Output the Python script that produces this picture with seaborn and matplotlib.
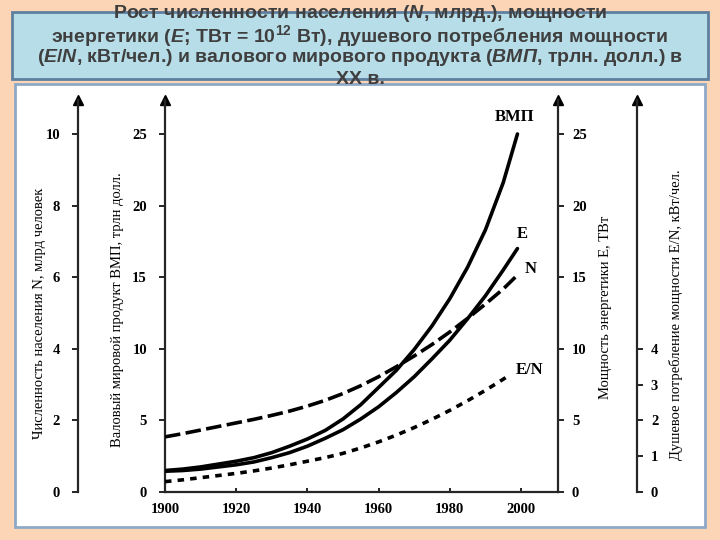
import matplotlib
matplotlib.use("Agg")
import matplotlib.pyplot as plt
from matplotlib.patches import Rectangle
import seaborn as sns
import pandas as pd

sns.set_style("ticks")
plt.rcParams['font.family'] = ['Liberation Serif', 'DejaVu Serif']
plt.rcParams['mathtext.fontset'] = 'custom'
plt.rcParams['mathtext.rm'] = 'Liberation Sans:bold'
plt.rcParams['mathtext.it'] = 'Liberation Sans:italic:bold'

## data
years = [1900, 1905, 1910, 1915, 1920, 1925, 1930, 1935, 1940, 1945, 1950,
         1955, 1960, 1965, 1970, 1975, 1980, 1985, 1990, 1995, 1999]
gwp = [1.5, 1.6, 1.75, 1.95, 2.15, 2.4, 2.75, 3.2, 3.7, 4.3, 5.1,
       6.1, 7.3, 8.5, 9.95, 11.6, 13.5, 15.7, 18.3, 21.6, 25.0]          # трлн. долл.
energy = [1.45, 1.5, 1.6, 1.75, 1.9, 2.1, 2.4, 2.75, 3.2, 3.75, 4.35,
          5.1, 5.95, 6.95, 8.05, 9.3, 10.6, 12.1, 13.7, 15.5, 17.0]      # ТВт
population = [1.54, 1.63, 1.73, 1.83, 1.93, 2.03, 2.14, 2.26, 2.4, 2.56, 2.75,
              2.97, 3.22, 3.5, 3.8, 4.12, 4.47, 4.85, 5.25, 5.67, 6.06]  # млрд
years_en = [1900, 1905, 1910, 1915, 1920, 1925, 1930, 1935, 1940, 1945, 1950,
            1955, 1960, 1965, 1970, 1975, 1980, 1985, 1990, 1995, 1997]
per_capita = [0.29, 0.34, 0.4, 0.46, 0.52, 0.59, 0.67, 0.76, 0.86, 0.96, 1.08,
              1.23, 1.4, 1.59, 1.8, 2.03, 2.28, 2.55, 2.84, 3.15, 3.28]  # кВт/чел.

x_ticks = [1900, 1920, 1940, 1960, 1980, 2000]
gwp_ticks = [0, 5, 10, 15, 20, 25]
pop_ticks = [0, 2, 4, 6, 8, 10]
en_ticks = [0, 5, 10, 15, 20, 25]
pc_ticks = [0, 1, 2, 3, 4]

title_lines = [
    r"Рост численности населения $\mathit{(N}$, млрд.), мощности",
    r"энергетики ($\mathit{E}$; ТВт = 10$^{12}$ Вт), душевого потребления мощности",
    r"$\mathit{(E/N}$, кВт/чел.) и валового мирового продукта $\mathit{(ВМП}$, трлн. долл.) в",
    "XX в.",
]

df_gwp = pd.DataFrame({"year": years, "v": gwp})
df_e = pd.DataFrame({"year": years, "v": energy})
df_n = pd.DataFrame({"year": years, "v": population})
df_en = pd.DataFrame({"year": years_en, "v": per_capita})

W, H = 720, 540
fig = plt.figure(figsize=(7.2, 5.4), dpi=100)
fig.patch.set_facecolor("#fbd5b5")

# slide boxes
fig.patches.append(Rectangle((15 / W, 1 - 527 / H), 690 / W, 443 / H, transform=fig.transFigure,
                             facecolor="white", edgecolor="#8ea9c8", lw=2, zorder=-2))
fig.patches.append(Rectangle((12 / W, 1 - 79 / H), 696 / W, 67 / H, transform=fig.transFigure,
                             facecolor="#b7dde8", edgecolor="#5f7f9f", lw=2, zorder=-2))
for i, line in enumerate(title_lines):
    fig.text(0.5, 1 - (14 + 21.8 * i) / H, line, ha="center", va="center", fontsize=14,
             color="#3f3f3f", family=["Liberation Sans", "DejaVu Sans"], fontweight="bold")

top = 25 * 392 / 358
ax = fig.add_axes([165 / W, 1 - 492 / H, 393 / W, 392 / H])
ax.set_facecolor("none")
axn = ax.twinx()
axe = ax.twinx()
axpc = ax.twinx()

lw = 2.6
sns.lineplot(data=df_gwp, x="year", y="v", ax=ax, color="black", lw=lw, errorbar=None)
sns.lineplot(data=df_e, x="year", y="v", ax=axe, color="black", lw=lw, errorbar=None)
sns.lineplot(data=df_n, x="year", y="v", ax=axn, color="black", lw=lw, errorbar=None,
             linestyle=(0, (4.3, 1.5)))
sns.lineplot(data=df_en, x="year", y="v", ax=axpc, color="black", lw=lw, errorbar=None,
             linestyle=(0, (1.8, 1.7)))

# spines first (moving a spine resets its ticks)
for a in (ax, axn, axe, axpc):
    a.set_xlabel("")
    a.set_ylabel("")
    for s in a.spines.values():
        s.set_visible(False)
        s.set_linewidth(1.6)

ax.spines["left"].set_visible(True)
ax.spines["bottom"].set_visible(True)
axn.yaxis.set_ticks_position("left")
axn.spines["left"].set_visible(True)
axn.spines["left"].set_position(("axes", -87 / 393))
axe.spines["right"].set_visible(True)
axpc.spines["right"].set_visible(True)
axpc.spines["right"].set_position(("axes", 472 / 393))

ax.set_xlim(1900, 1900 + 393 / 3.56)
ax.set_ylim(0, top)
axe.set_ylim(0, top)
axn.set_ylim(0, top / 2.5)
axpc.set_ylim(0, top / 2.5)

tick_font = dict(fontsize=10.5, fontweight="bold")
ax.set_xticks(x_ticks)
ax.set_xticklabels([str(t) for t in x_ticks], **tick_font)
ax.set_yticks(gwp_ticks)
ax.set_yticklabels([str(t) for t in gwp_ticks], **tick_font)
axe.set_yticks(en_ticks)
axe.set_yticklabels([str(t) for t in en_ticks], **tick_font)
axn.set_yticks(pop_ticks)
axn.set_yticklabels([str(t) for t in pop_ticks], **tick_font)
axpc.set_yticks(pc_ticks)
axpc.set_yticklabels([str(t) for t in pc_ticks], **tick_font)

for a in (ax, axn, axe, axpc):
    a.tick_params(length=4, width=1.2, colors="black", pad=6)
ax.tick_params(axis="x", direction="in", length=3, pad=8)
ax.tick_params(axis="y", pad=9)
axn.tick_params(pad=9)

# arrow heads on the vertical axes
for xa in (-87 / 393, 0, 1, 472 / 393):
    ax.plot(xa, 1.0, marker="^", color="black", ms=7, transform=ax.transAxes, clip_on=False)

# curve labels
lab = dict(fontsize=12, fontweight="bold", color="black")
fig.text(515 / W, 1 - 117 / H, "ВМП", ha="center", va="center", **lab)
fig.text(522 / W, 1 - 234 / H, "E", ha="center", va="center", **lab)
fig.text(531 / W, 1 - 269 / H, "N", ha="center", va="center", **lab)
fig.text(530 / W, 1 - 370 / H, "E/N", ha="center", va="center", **lab)

# axis titles
axl = dict(fontsize=10.5, rotation=90, ha="center", va="center", color="black")
fig.text(40 / W, 1 - 313 / H, "Численность населения N, млрд человек", **axl)
fig.text(118 / W, 1 - 310 / H, "Валовый мировой продукт ВМП, трлн долл.", **axl)
fig.text(605 / W, 1 - 307 / H, "Мощность энергетики E, ТВт", **axl)
fig.text(676 / W, 1 - 315 / H, "Душевое потребление мощности E/N, кВт/чел.", **axl)

plt.savefig("out.png", dpi=100)
